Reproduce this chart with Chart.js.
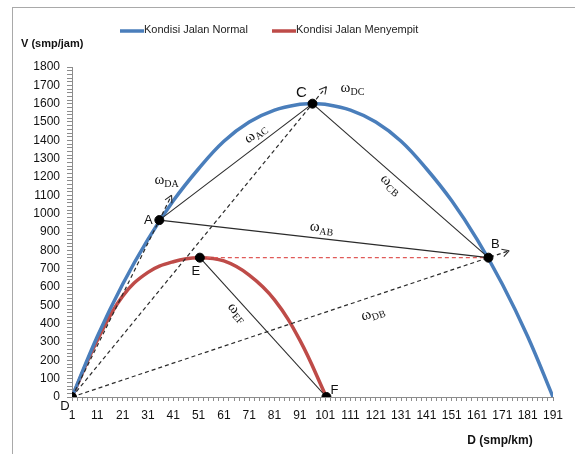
<!DOCTYPE html>
<html>
<head>
<meta charset="utf-8">
<script src="https://cdn.jsdelivr.net/npm/chart.js"></script>
<style>
  body { margin: 0; background: #fff; overflow: hidden; }
  #wrap { position: relative; width: 575px; height: 454px; }
  #frame { position: absolute; left: 12px; top: 7px; width: 700px; height: 600px; border: 1px solid #a9a9a9; }
  canvas { position: absolute; left: 0; top: 0; }
</style>
</head>
<body>
<div id="wrap">
  <div id="frame"></div>
  <canvas id="speedChart" width="575" height="454"></canvas>
</div>
<script>
//======================== data ===============================
// blue curve (normal road)
const normalDensity = [1, 11, 21, 31, 41, 51, 61, 71, 81, 91, 96, 101, 111, 121, 131, 141, 151, 161, 171, 181, 191];
const normalVolume = [0, 330, 615, 860, 1070, 1245, 1395, 1500, 1565, 1597, 1600, 1597, 1565, 1500, 1395, 1245, 1070, 860, 615, 330, 0];
// red curve (narrowed road)
const jamDensity = [1, 11, 21, 31, 41, 51, 61, 71, 81, 91, 101.5];
const jamVolume = [0, 310, 550, 680, 738, 760, 742, 665, 530, 310, 0];
// named points
const pointNames = ["D", "A", "C", "B", "E", "F"];
const pointDensity = [1, 35.5, 96, 165.5, 51.5, 101.5];
const pointVolume = [0, 965, 1600, 760, 760, 0];
// connecting lines
const solidLines = [["A", "C"], ["C", "B"], ["A", "B"], ["E", "F"]];
const arrowLines = [["D", "A"], ["D", "C"], ["D", "B"]];
const redDashLines = [["E", "B"]];
const omegaLabels = ["DA", "AC", "DC", "CB", "AB", "DB", "EF"];
// tick labels
const xTickLabels = [1, 11, 21, 31, 41, 51, 61, 71, 81, 91, 101, 111, 121, 131, 141, 151, 161, 171, 181, 191];
const yTickLabels = [0, 100, 200, 300, 400, 500, 600, 700, 800, 900, 1000, 1100, 1200, 1300, 1400, 1500, 1600, 1700, 1800];

//======================== helpers ===============================
const arrowReach = { A: 0.14, C: 0.058, B: 0.05 }; // how far the dashed arrows run past the point
function pointOf(name) {
  const i = pointNames.indexOf(name);
  return { x: pointDensity[i], y: pointVolume[i] };
}
function arrowTip(from, to) {
  const a = pointOf(from), b = pointOf(to), k = arrowReach[to];
  return { x: b.x + k * (b.x - a.x), y: b.y + k * (b.y - a.y) };
}
function lineSet(points, color, width, dash) {
  return { data: points, showLine: true, borderColor: color, borderWidth: width, borderDash: dash || [], pointRadius: 0, order: 1 };
}

//======================== datasets ===============================
const datasets = [];
datasets.push({
  label: "points",
  data: pointNames.map(pointOf),
  showLine: false,
  pointRadius: 4.5,
  pointBackgroundColor: "#000",
  pointBorderColor: "#000",
  order: 0,
});
solidLines.forEach(([p, q]) => datasets.push(lineSet([pointOf(p), pointOf(q)], "#2b2b2b", 1.1)));
arrowLines.forEach(([p, q]) => datasets.push(lineSet([pointOf(p), arrowTip(p, q)], "#2b2b2b", 1.2, [4, 3])));
redDashLines.forEach(([p, q]) => datasets.push(lineSet([pointOf(p), pointOf(q)], "#e05a58", 1.2, [4, 3])));
datasets.push({
  label: "Kondisi Jalan Normal",
  data: normalDensity.map((d, i) => ({ x: d, y: normalVolume[i] })),
  showLine: true,
  borderColor: "#4a7ebb",
  borderWidth: 3.5,
  pointRadius: 0,
  tension: 0.4,
  order: 2,
});
datasets.push({
  label: "Kondisi Jalan Menyempit",
  data: jamDensity.map((d, i) => ({ x: d, y: jamVolume[i] })),
  showLine: true,
  borderColor: "#be4b48",
  borderWidth: 3.5,
  pointRadius: 0,
  tension: 0.4,
  order: 2,
});

//======================== overlay: arrows, labels, legend ===============================
const omegaPlace = {
  DA: { tip: true, dx: -5, dy: -14 },
  DC: { tip: true, dx: 26, dy: 2 },
  AC: { t: 0.67, off: 10 },
  CB: { t: 0.48, off: -10 },
  AB: { t: 0.49, off: 10 },
  DB: { t: 0.71, off: -17 },
  EF: { t: 0.35, off: -10 },
};
const pointLabelOffset = { D: [-7, 9], A: [-11, 0], C: [-11, -11], B: [7, -13], E: [-4, 14], F: [8, -7] };

function drawOmega(ctx, cx, cy, ang, sub) {
  ctx.save();
  ctx.translate(cx, cy);
  ctx.rotate(ang);
  ctx.fillStyle = "#111";
  ctx.textAlign = "left";
  ctx.textBaseline = "alphabetic";
  ctx.font = "15px 'Liberation Serif'";
  const w1 = ctx.measureText("\u03c9").width;
  ctx.font = "10px 'Liberation Serif'";
  const w2 = ctx.measureText(sub).width;
  const x0 = -(w1 + w2) / 2;
  ctx.font = "15px 'Liberation Serif'";
  ctx.fillText("\u03c9", x0, 3);
  ctx.font = "10px 'Liberation Serif'";
  ctx.fillText(sub, x0 + w1, 6);
  ctx.restore();
}

const overlayPlugin = {
  id: "overlay",
  afterDatasetsDraw(chart) {
    const { ctx, scales: { x, y } } = chart;
    const px = (p) => ({ x: x.getPixelForValue(p.x), y: y.getPixelForValue(p.y) });
    ctx.save();
    // open arrowheads
    ctx.strokeStyle = "#2b2b2b";
    ctx.lineWidth = 1.1;
    arrowLines.forEach(([p, q]) => {
      const s = px(pointOf(p)), t = px(arrowTip(p, q));
      const ang = Math.atan2(t.y - s.y, t.x - s.x);
      ctx.beginPath();
      [-0.5, 0.5].forEach((d) => {
        ctx.moveTo(t.x, t.y);
        ctx.lineTo(t.x - 8 * Math.cos(ang + d), t.y - 8 * Math.sin(ang + d));
      });
      ctx.stroke();
    });
    // omega labels
    omegaLabels.forEach((sub) => {
      const pl = omegaPlace[sub];
      if (pl.tip) {
        const t = px(arrowTip(sub[0], sub[1]));
        drawOmega(ctx, t.x + pl.dx, t.y + pl.dy, 0, sub);
      } else {
        const a = px(pointOf(sub[0])), b = px(pointOf(sub[1]));
        const len = Math.hypot(b.x - a.x, b.y - a.y);
        const ux = (b.x - a.x) / len, uy = (b.y - a.y) / len;
        const cx = a.x + (b.x - a.x) * pl.t + uy * pl.off;
        const cy = a.y + (b.y - a.y) * pl.t - ux * pl.off;
        drawOmega(ctx, cx, cy, Math.atan2(uy, ux), sub);
      }
    });
    // point names
    ctx.fillStyle = "#111";
    ctx.textAlign = "center";
    ctx.textBaseline = "middle";
    pointNames.forEach((n) => {
      const p = px(pointOf(n));
      const o = pointLabelOffset[n];
      ctx.font = n === "C" ? "15px 'Liberation Sans'" : "13px 'Liberation Sans'";
      ctx.fillText(n, p.x + o[0], p.y + o[1]);
    });
    ctx.restore();
  },
  afterDraw(chart) {
    const ctx = chart.ctx;
    ctx.save();
    // legend
    const legend = [
      { text: "Kondisi Jalan Normal", color: "#4a7ebb", x: 120 },
      { text: "Kondisi Jalan Menyempit", color: "#be4b48", x: 272 },
    ];
    ctx.font = "11px 'Liberation Sans'";
    ctx.textAlign = "left";
    ctx.textBaseline = "middle";
    legend.forEach((l) => {
      ctx.strokeStyle = l.color;
      ctx.lineWidth = 3.5;
      ctx.beginPath();
      ctx.moveTo(l.x, 31);
      ctx.lineTo(l.x + 24, 31);
      ctx.stroke();
      ctx.fillStyle = "#222";
      ctx.fillText(l.text, l.x + 24, 30);
    });
    // axis titles
    ctx.fillStyle = "#111";
    ctx.font = "bold 11px 'Liberation Sans'";
    ctx.fillText("V (smp/jam)", 21, 44);
    ctx.font = "bold 12px 'Liberation Sans'";
    ctx.textAlign = "center";
    ctx.fillText("D (smp/km)", 500, 441);
    ctx.restore();
  },
};

//======================== chart ===============================
const axisGray = "#8c8c8c";
const config = {
  type: "scatter",
  data: { datasets: datasets },
  plugins: [overlayPlugin],
  options: {
    responsive: false,
    animation: false,
    layout: { padding: { top: 67, right: 22, left: 0, bottom: 0 } },
    plugins: {
      legend: { display: false },
      tooltip: { enabled: false },
    },
    scales: {
      x: {
        type: "linear",
        min: 1,
        max: 191,
        afterBuildTicks: (scale) => {
          const t = [];
          for (let v = 1; v <= 191; v += 2) t.push({ value: v });
          scale.ticks = t;
        },
        afterFit: (scale) => { scale.height = 57; },
        ticks: {
          autoSkip: false,
          maxRotation: 0,
          padding: 7,
          color: "#111",
          font: { family: "'Liberation Sans'", size: 12 },
          callback: (v) => (xTickLabels.includes(v) ? String(v) : ""),
        },
        grid: { drawOnChartArea: false, drawTicks: true, tickLength: 4, color: axisGray },
        border: { color: axisGray, width: 1 },
      },
      y: {
        type: "linear",
        min: 0,
        max: 1800,
        afterBuildTicks: (scale) => {
          const t = [];
          for (let v = 0; v <= 1800; v += 20) t.push({ value: v });
          scale.ticks = t;
        },
        afterFit: (scale) => { scale.width = 72; },
        ticks: {
          autoSkip: false,
          padding: 7,
          color: "#111",
          font: { family: "'Liberation Sans'", size: 12 },
          callback: (v) => (yTickLabels.includes(v) ? String(v) : ""),
        },
        grid: { drawOnChartArea: false, drawTicks: true, tickLength: 5, color: axisGray },
        border: { color: axisGray, width: 1 },
      },
    },
  },
};

let speedChart = new Chart(document.getElementById("speedChart"), config);
</script>
</body>
</html>
